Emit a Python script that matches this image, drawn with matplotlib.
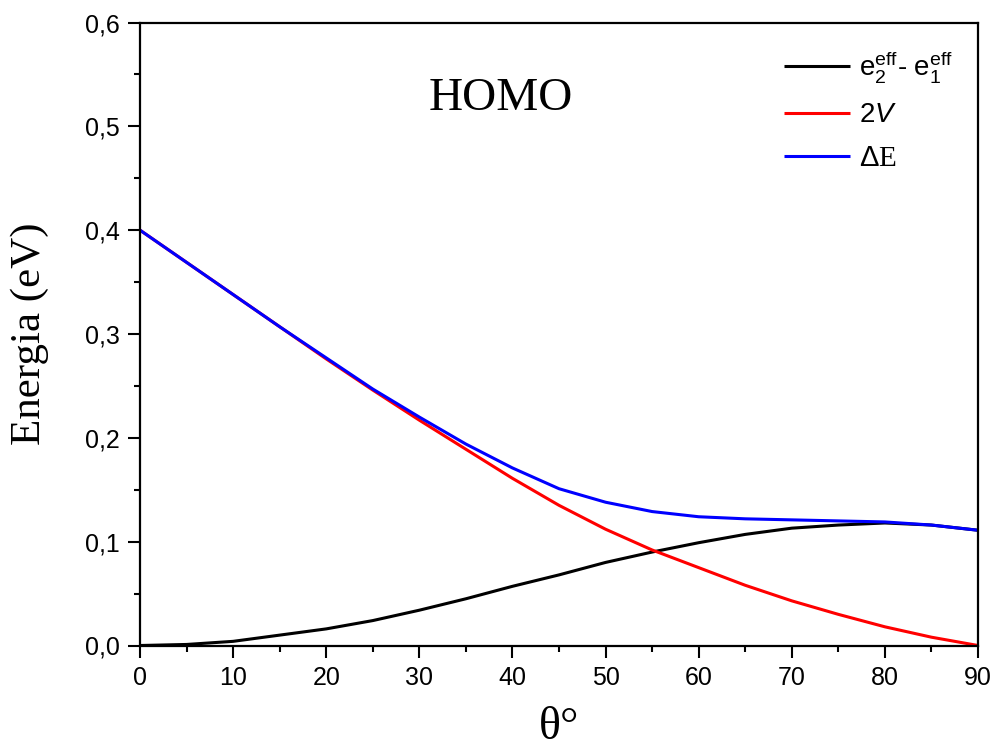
import matplotlib
matplotlib.use("Agg")
import matplotlib.pyplot as plt
from matplotlib.ticker import MultipleLocator

# ---- data ----
theta = [0, 5, 10, 15, 20, 25, 30, 35, 40, 45, 50, 55, 60, 65, 70, 75, 80, 85, 90]
diff_eff = [0.000, 0.001, 0.004, 0.010, 0.016, 0.024, 0.034, 0.045, 0.057, 0.068,
            0.080, 0.090, 0.099, 0.107, 0.113, 0.116, 0.118, 0.116, 0.111]
two_v = [0.400, 0.369, 0.338, 0.307, 0.276, 0.246, 0.217, 0.189, 0.161, 0.135,
         0.112, 0.092, 0.075, 0.058, 0.043, 0.030, 0.018, 0.008, 0.000]
delta_e = [0.400, 0.369, 0.338, 0.307, 0.277, 0.247, 0.220, 0.194, 0.171, 0.151,
           0.138, 0.129, 0.124, 0.122, 0.121, 0.120, 0.119, 0.116, 0.111]

xticks = [0, 10, 20, 30, 40, 50, 60, 70, 80, 90]
xtick_labels = ['0', '10', '20', '30', '40', '50', '60', '70', '80', '90']
yticks = [0.0, 0.1, 0.2, 0.3, 0.4, 0.5, 0.6]
ytick_labels = ['0,0', '0,1', '0,2', '0,3', '0,4', '0,5', '0,6']

series_labels = [r'e$_2^{\mathregular{eff}}$- e$_1^{\mathregular{eff}}$', r'2$\mathit{V}$', r'$\Delta$E']
colors = ['#000000', '#ff0000', '#0000ff']

plt.rcParams['font.family'] = ['Liberation Sans', 'DejaVu Sans']
plt.rcParams['mathtext.fontset'] = 'custom'
plt.rcParams['mathtext.rm'] = 'Liberation Sans'
plt.rcParams['mathtext.it'] = 'Liberation Sans:italic'
plt.rcParams['mathtext.bf'] = 'Liberation Sans:bold'

fig = plt.figure(figsize=(9.94, 7.51), dpi=100)
ax = fig.add_axes([140/994, 1-645.5/751, (978-140)/994, (645.5-22.5)/751])

for ys, lab, c in zip([diff_eff, two_v, delta_e], series_labels, colors):
    ax.plot(theta, ys, color=c, lw=2.2, label=lab, solid_capstyle='butt')

ax.set_xlim(0, 90)
ax.set_ylim(0, 0.6)
ax.set_xticks(xticks)
ax.set_xticklabels(xtick_labels)
ax.set_yticks(yticks)
ax.set_yticklabels(ytick_labels)
ax.xaxis.set_minor_locator(MultipleLocator(5))
ax.yaxis.set_minor_locator(MultipleLocator(0.05))
ax.tick_params(which='major', direction='out', length=8.5, width=1.5, labelsize=18, pad=6)
ax.tick_params(which='minor', direction='out', length=4.5, width=1.5)
ax.tick_params(top=False, right=False, which='both')
for s in ax.spines.values():
    s.set_linewidth(1.6)

ax.set_ylabel('Energia (eV)', family='Liberation Serif', fontsize=31, labelpad=26)
fig.text(559/994, 2/751, r'θ°', family='Liberation Serif', fontsize=33,
         ha='center', va='bottom')

ax.text(0.431, 0.877, 'HOMO', family='Liberation Serif', fontsize=34,
        ha='center', va='center', transform=ax.transAxes)

leg = ax.legend(loc='upper left', bbox_to_anchor=(0.755, 0.975), frameon=False,
                fontsize=20, handlelength=2.4, handletextpad=0.3, labelspacing=0.62,
                borderaxespad=0)
for l in leg.get_lines():
    l.set_linewidth(2.2)
leg.get_texts()[2].set_family('Liberation Serif')
leg.get_texts()[2].set_fontsize(21)

fig.savefig('out.png', dpi=100)
